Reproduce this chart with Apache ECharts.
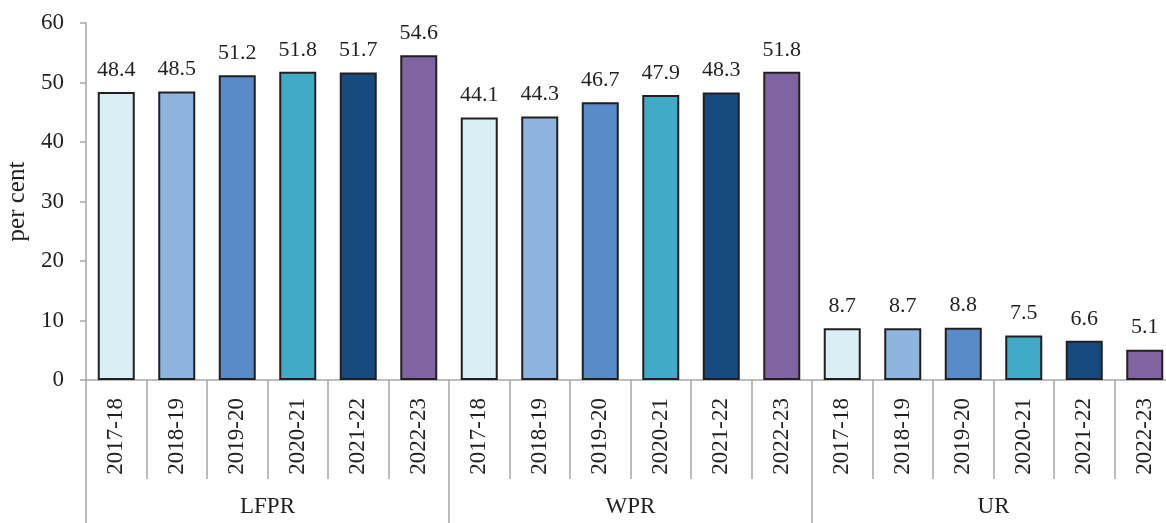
<!DOCTYPE html>
<html><head><meta charset="utf-8">
<script src="https://cdn.jsdelivr.net/npm/echarts@6/dist/echarts.min.js"></script>
<style>html,body{margin:0;padding:0;background:#fff}#c{width:1166px;height:523px}</style>
</head><body><div id="c"></div>
<script>
const years = ['2017-18','2018-19','2019-20','2020-21','2021-22','2022-23'];
const groups = ['LFPR','WPR','UR'];
const lfpr = [48.4,48.5,51.2,51.8,51.7,54.6];
const wpr = [44.1,44.3,46.7,47.9,48.3,51.8];
const ur = [8.7,8.7,8.8,7.5,6.6,5.1];
const yTicks = [0,10,20,30,40,50,60];
const colors = ['#DAEEF5','#8FB4DE','#588BC7','#41AAC7','#174A7E','#8064A1'];

const cats = [], vals = [];
[lfpr,wpr,ur].forEach(arr=>arr.forEach((v,i)=>{cats.push(years[i]);vals.push({value:v,itemStyle:{color:colors[i]}});}));

const font = '"Liberation Serif", "Times New Roman", serif';
const chart = echarts.init(document.getElementById('c'),null,{renderer:'canvas'});
chart.setOption({
  animation:false,
  grid:{left:86,width:1089,top:23,height:357,containLabel:false,outerBoundsMode:'none'},
  xAxis:[{
    type:'category',data:cats,position:'bottom',
    axisLine:{show:true,lineStyle:{color:'#A6A6A6',width:1.5}},
    axisTick:{show:true,length:99,lineStyle:{color:'#A6A6A6',width:1.5}},
    axisLabel:{rotate:90,margin:18,color:'#231F20',fontFamily:font,fontSize:23,interval:0}
  },{
    type:'category',data:groups,position:'bottom',offset:0,
    axisLine:{show:false},
    axisTick:{show:true,length:145,lineStyle:{color:'#A6A6A6',width:1.5}},
    axisLabel:{margin:115,color:'#231F20',fontFamily:font,fontSize:23,interval:0}
  }],
  yAxis:{
    type:'value',min:yTicks[0],max:yTicks[yTicks.length-1],interval:10,
    name:'per cent',nameLocation:'middle',nameGap:55,nameRotate:90,
    nameTextStyle:{color:'#231F20',fontFamily:font,fontSize:25},
    axisLine:{show:true,lineStyle:{color:'#A6A6A6',width:1.5}},
    axisTick:{show:true,length:6,lineStyle:{color:'#A6A6A6',width:1.5}},
    axisLabel:{margin:22,color:'#231F20',fontFamily:font,fontSize:23},
    splitLine:{show:false}
  },
  series:[{
    type:'bar',xAxisIndex:0,data:vals,barWidth:37,
    itemStyle:{borderColor:'#231F20',borderWidth:2},
    label:{show:true,position:'top',distance:11,color:'#231F20',fontFamily:font,fontSize:22,formatter:p=>p.value.toFixed(1)}
  }]
});
</script></body></html>
